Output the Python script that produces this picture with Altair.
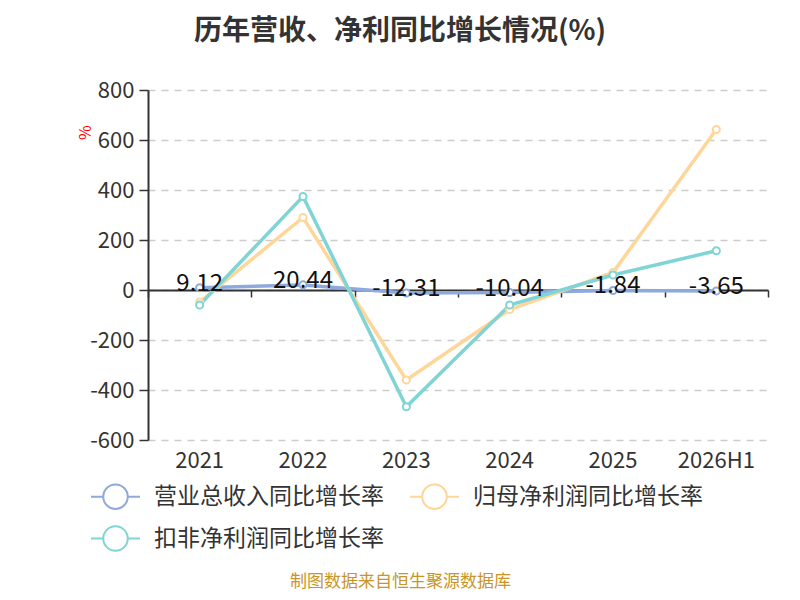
import altair as alt
import pandas as pd

years = ["2021", "2022", "2023", "2024", "2025", "2026H1"]
series_names = ["营业总收入同比增长率", "归母净利润同比增长率", "扣非净利润同比增长率"]
revenue = [9.12, 20.44, -12.31, -10.04, -1.84, -3.65]
net_profit = [-48, 290, -360, -78, 70, 642]
deducted = [-60, 374, -467, -60, 60, 157]
colors = ["#8eaadc", "#ffd699", "#80d4d6"]
y_ticks = [-600, -400, -200, 0, 200, 400, 600, 800]

rows = []
for k, (name, vals) in enumerate(zip(series_names, [revenue, net_profit, deducted])):
    for y, v in zip(years, vals):
        rows.append({"year": y, "series": name, "value": v, "k": k})
df = pd.DataFrame(rows)
rev_df = pd.DataFrame({"year": years, "value": revenue,
                       "label": [f"{v:.2f}" for v in revenue]})

FONT = "Noto Sans CJK SC"
x_scale = alt.Scale(type="band", domain=years, paddingInner=0, paddingOuter=0)
y_scale = alt.Scale(domain=[-600, 800], nice=False, zero=False)
color_scale = alt.Scale(domain=series_names, range=colors)

y_axis = alt.Axis(
    title="%", titleColor="red", titleFontSize=16, titleFontWeight="normal",
    titleFont=FONT, titleX=-55, titleY=42, titleAngle=-90,
    values=y_ticks, labelExpr="'' + datum.value",
    labelFontSize=22, labelColor="#333", labelFont=FONT,
    labelPadding=5, tickSize=9, tickColor="#333", tickWidth=1.5,
    domainColor="#333", domainWidth=2,
    grid=True, gridDash=[7, 6], gridColor="#cccccc", gridWidth=1.5,
)

symbol_path = "M-1,0L-0.5,0M0.5,0L1,0M0.5,0A0.5,0.5,0,1,1,-0.5,0A0.5,0.5,0,1,1,0.5,0"

lines = alt.Chart(df).mark_line(strokeWidth=3.5).encode(
    x=alt.X("year:N", scale=x_scale, sort=years,
            axis=alt.Axis(title="制图数据来自恒生聚源数据库", orient="bottom",
                          domain=False, ticks=False, grid=False, labelAngle=0,
                          labelFontSize=22, labelColor="#333", labelFont=FONT,
                          labelPadding=10, titleColor="#c8952a", titleFontSize=17,
                          titleFont=FONT, titleFontWeight="normal",
                          titleX=252, titleY=141, titleBaseline="middle")),
    y=alt.Y("value:Q", scale=y_scale, axis=y_axis),
    color=alt.Color("series:N", scale=color_scale, sort=series_names,
                    legend=alt.Legend(title=None, orient="none", legendX=-58, legendY=381,
                                      columns=2, direction="horizontal",
                                      symbolType=symbol_path, symbolSize=2401,
                                      symbolStrokeWidth=2, symbolFillColor="white",
                                      labelFontSize=23, labelColor="#333", labelFont=FONT,
                                      labelLimit=0, labelOffset=13, columnPadding=22,
                                      rowPadding=-5, symbolOpacity=1)),
    order=alt.Order("k:Q"),
)

points = alt.Chart(df).mark_point(shape="circle", fill="white", fillOpacity=1, opacity=1,
                                  size=50, strokeWidth=2).encode(
    x=alt.X("year:N", scale=x_scale, sort=years,
            axis=alt.Axis(title=None, orient="bottom", offset=-150, labels=False,
                          ticks=True, tickBand="extent", tickSize=7, tickColor="#333",
                          tickWidth=1.5, domain=True, domainColor="#333", domainWidth=2,
                          grid=False)),
    y=alt.Y("value:Q", scale=y_scale, axis=y_axis),
    stroke=alt.Stroke("series:N", scale=color_scale, legend=None),
)

labels = alt.Chart(rev_df).mark_text(fontSize=24, font=FONT, color="#111",
                                     baseline="middle", dy=-4).encode(
    x=alt.X("year:N", scale=x_scale, sort=years, axis=None),
    y=alt.Y("value:Q", scale=y_scale, axis=y_axis),
    text="label:N",
)

chart = alt.layer(lines, points, labels).resolve_axis(x="independent").properties(
    width=620, height=350,
    autosize=alt.AutoSizeParams(type="none"),
    padding={"left": 140, "top": 82, "right": 24, "bottom": 152},
    title=alt.TitleParams("历年营收、净利同比增长情况(%)", fontSize=28, fontWeight="bold",
                          color="#333", font=FONT, anchor="middle", frame="group",
                          dx=-58, offset=33),
).configure_view(stroke=None)

chart.save("out.html", embed_options={"renderer": "svg", "actions": False})
